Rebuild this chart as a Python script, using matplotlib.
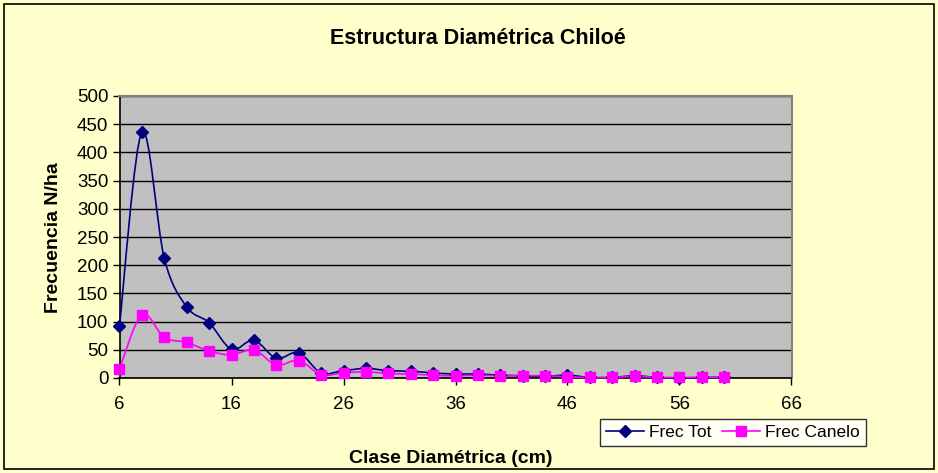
import matplotlib
matplotlib.use("Agg")
import matplotlib.pyplot as plt
from matplotlib.path import Path
from matplotlib.patches import PathPatch, Rectangle
from matplotlib.lines import Line2D

plt.rcParams["font.family"] = ["Liberation Sans", "DejaVu Sans"]

clase = [6, 8, 10, 12, 14, 16, 18, 20, 22, 24, 26, 28, 30, 32, 34, 36, 38, 40,
         42, 44, 46, 48, 50, 52, 54, 56, 58, 60]
frec_tot = [93, 436, 212, 126, 98, 51, 67, 35, 45, 9, 13, 17, 13, 12, 9, 7, 7, 5,
            4, 3, 5, 1, 1, 4, 1, 0, 1, 1]
frec_canelo = [16, 112, 72, 63, 48, 41, 50, 23, 31, 6, 9, 11, 8, 7, 5, 4, 5, 4,
               4, 4, 2, 1, 1, 3, 1, 1, 1, 1]

BG = "#FFFFCC"
NAVY = "#000080"
MAGENTA = "#FF00FF"


def smooth_path(xs, ys, t=1 / 6):
    # cubic bezier through the points, catmull-rom style (like excel smoothed lines)
    verts = [(xs[0], ys[0])]
    codes = [Path.MOVETO]
    n = len(xs)
    for i in range(n - 1):
        x0, y0 = (xs[i - 1], ys[i - 1]) if i > 0 else (xs[i], ys[i])
        x1, y1 = xs[i], ys[i]
        x2, y2 = xs[i + 1], ys[i + 1]
        x3, y3 = (xs[i + 2], ys[i + 2]) if i + 2 < n else (x2, y2)
        c1 = (x1 + (x2 - x0) * t, y1 + (y2 - y0) * t)
        c2 = (x2 - (x3 - x1) * t, y2 - (y3 - y1) * t)
        verts += [c1, c2, (x2, y2)]
        codes += [Path.CURVE4] * 3
    return Path(verts, codes)


fig = plt.figure(figsize=(9.38, 4.73), dpi=100, facecolor=BG)
ax = fig.add_axes([119.5 / 938, 1 - 378 / 473, (791.5 - 119.5) / 938, (378 - 96) / 473])
ax.set_facecolor("#C0C0C0")

for ys, col in [(frec_tot, NAVY), (frec_canelo, MAGENTA)]:
    ax.add_patch(PathPatch(smooth_path(clase, ys), fill=False, edgecolor=col,
                           lw=1.2, zorder=3, clip_on=False))

ax.plot(clase, frec_tot, ls="none", marker="D", ms=6.5, color=NAVY, zorder=4, clip_on=False)
ax.plot(clase, frec_canelo, ls="none", marker="s", ms=6.5, color=MAGENTA, zorder=5, clip_on=False)

ax.set_xlim(6, 66)
ax.set_ylim(0, 500)
ax.set_xticks(range(6, 67, 10))
ax.set_yticks(range(0, 501, 50))
ax.yaxis.grid(True, color="black", lw=1.0)
ax.set_axisbelow(True)
ax.tick_params(labelsize=13.5, direction="out", length=5, width=1, pad=3, colors="black")
ax.tick_params(axis="x", pad=8)

for s in ["top", "right"]:
    ax.spines[s].set_color("#808080")
    ax.spines[s].set_linewidth(1.5)
for s in ["left", "bottom"]:
    ax.spines[s].set_color("black")
    ax.spines[s].set_linewidth(1.2)

fig.text(478 / 938, 1 - 38 / 473, "Estructura Diamétrica Chiloé", ha="center", va="center",
         fontsize=15.5, fontweight="bold")
fig.text(451 / 938, 1 - 458 / 473, "Clase Diamétrica (cm)", ha="center", va="center",
         fontsize=14, fontweight="bold")
fig.text(54 / 938, 1 - 238 / 473, "Frecuencia N/ha", ha="center", va="center",
         rotation=90, fontsize=14, fontweight="bold")

handles = [Line2D([], [], color=NAVY, marker="D", ms=6, lw=1.2),
           Line2D([], [], color=MAGENTA, marker="s", ms=6.5, lw=1.2)]
leg = fig.legend(handles, ["Frec Tot", "Frec Canelo"], loc="center",
                 bbox_to_anchor=(733 / 938, 1 - 432.5 / 473), ncol=2, fontsize=12.5,
                 frameon=True, fancybox=False, edgecolor="black", facecolor="white",
                 handlelength=2.2, handletextpad=0.3, columnspacing=0.6,
                 borderpad=0.35, borderaxespad=0)
leg.get_frame().set_linewidth(1.0)

fig.patches.append(Rectangle((4 / 938, 4 / 473), 1 - 8 / 938, 1 - 8 / 473,
                             transform=fig.transFigure, fill=False, edgecolor="black", lw=1.2))

fig.savefig("out.png", dpi=100, facecolor=BG)
